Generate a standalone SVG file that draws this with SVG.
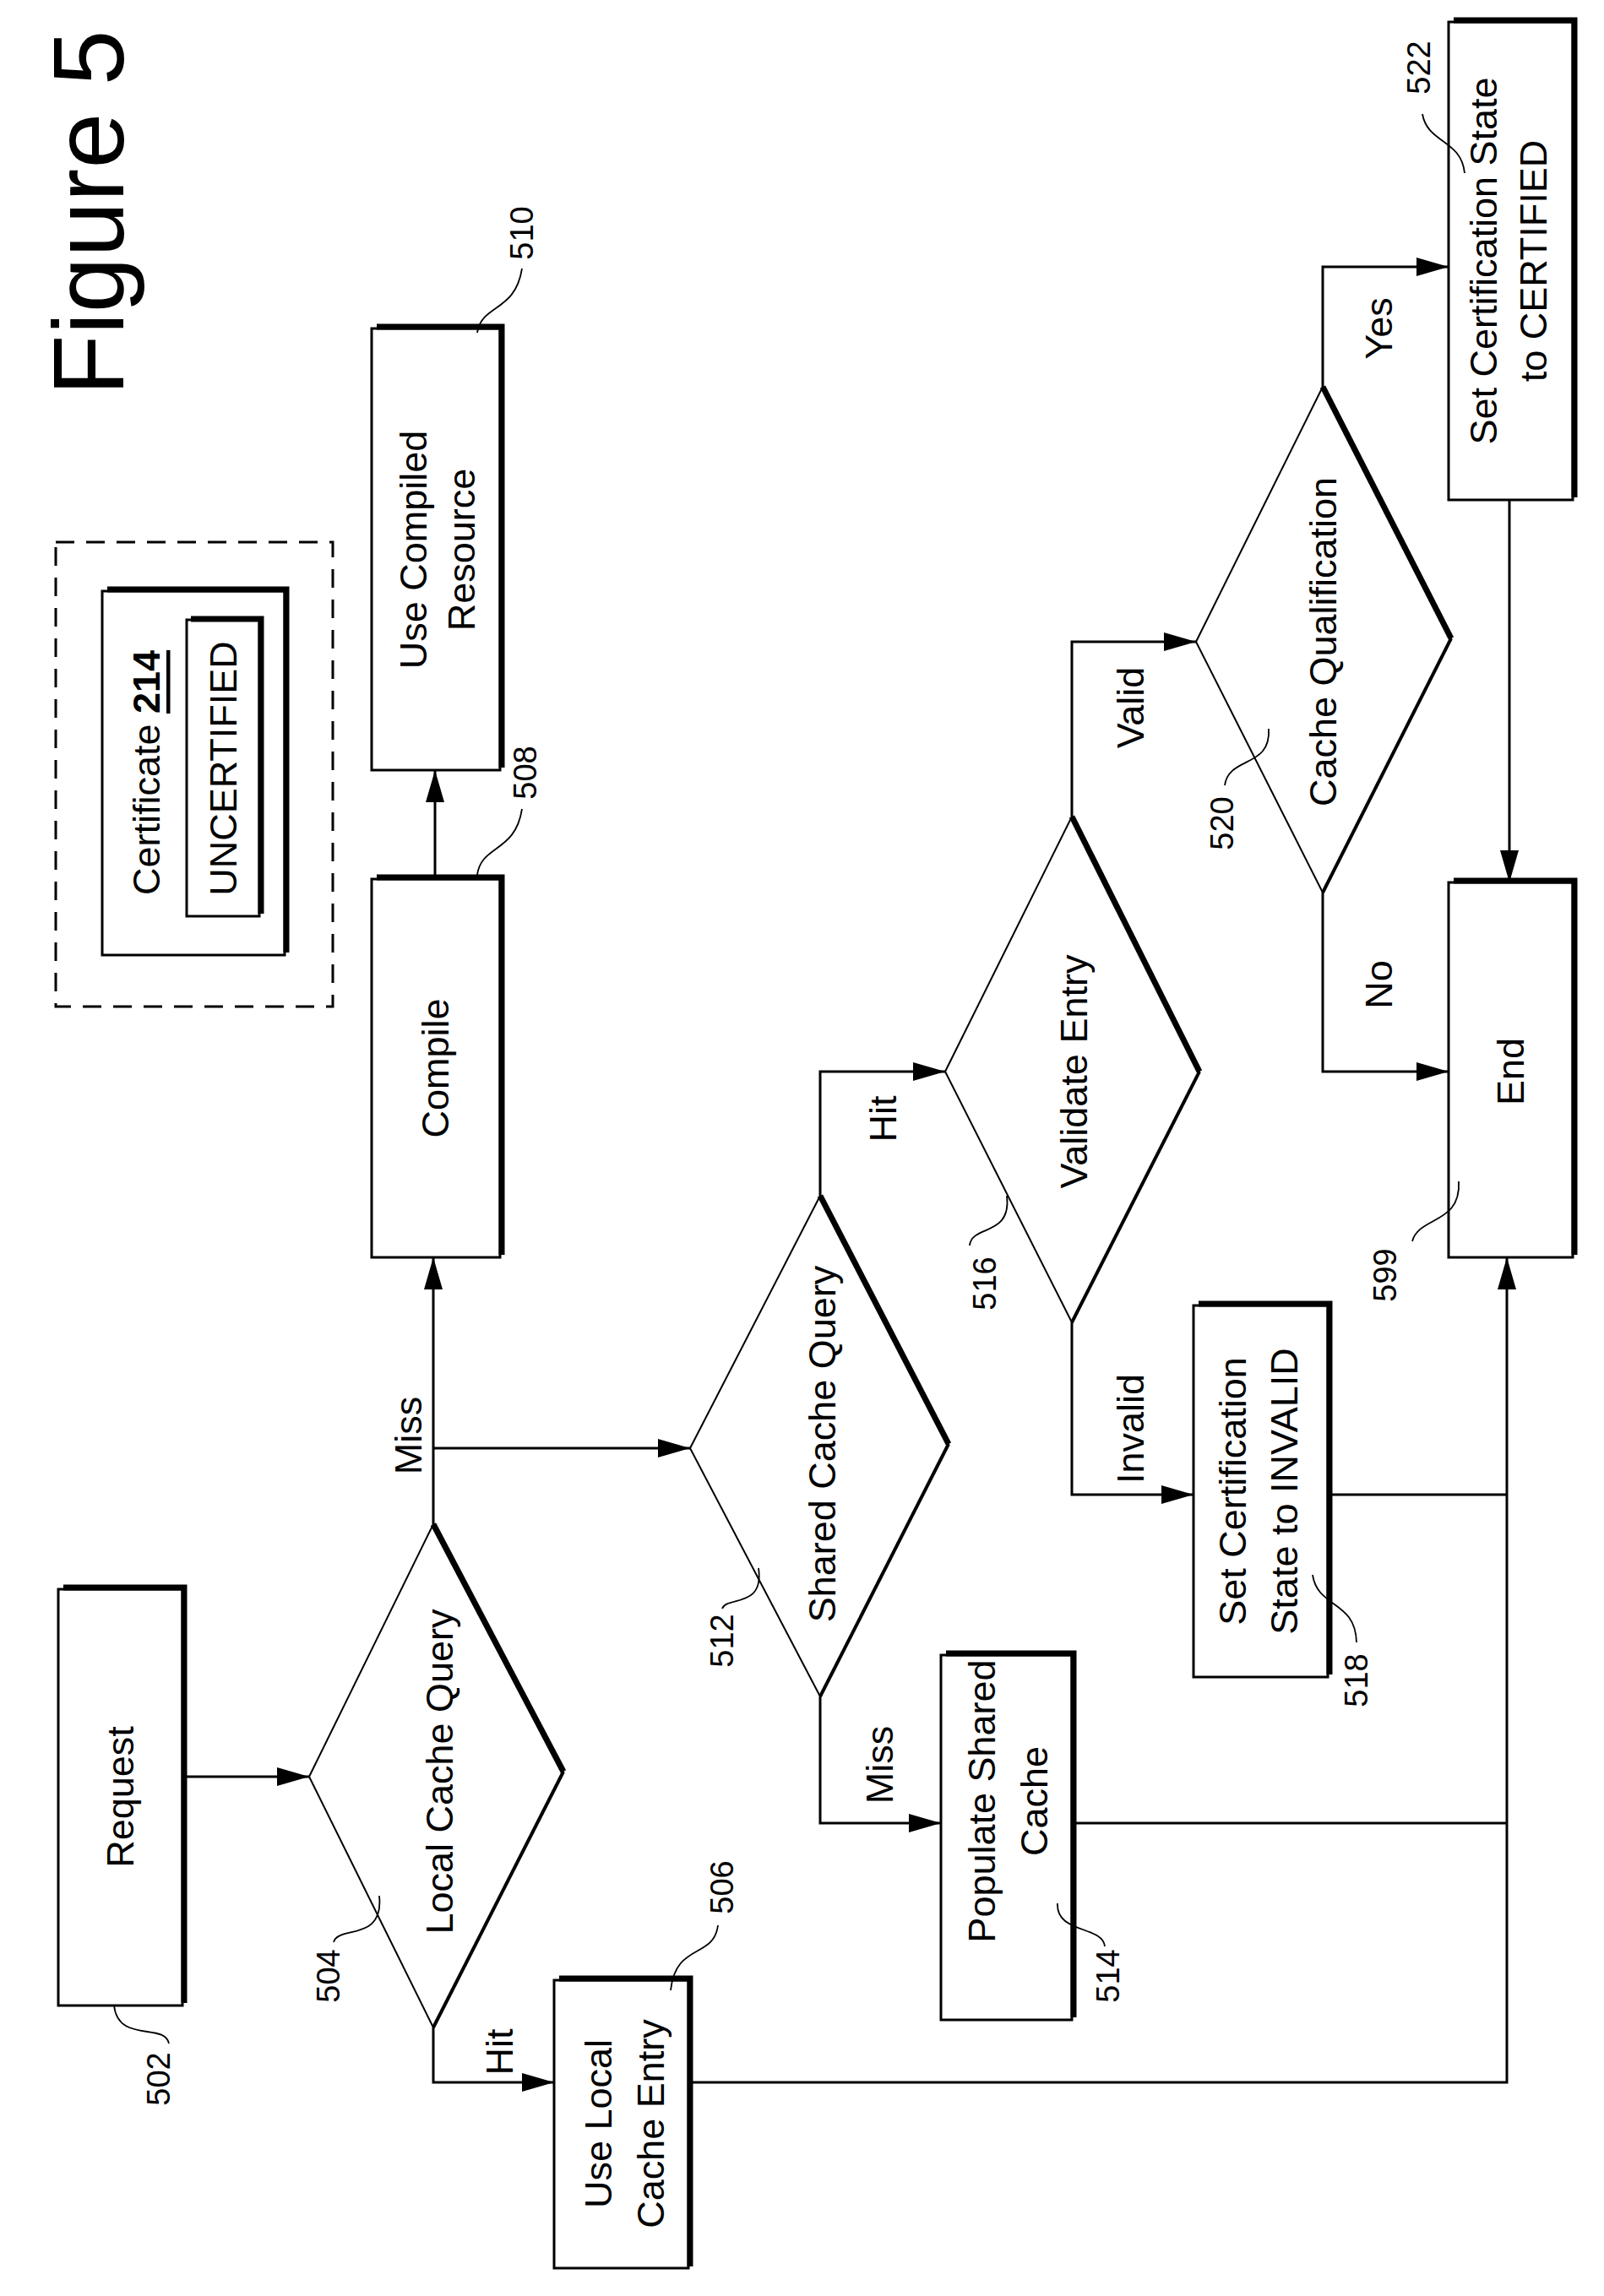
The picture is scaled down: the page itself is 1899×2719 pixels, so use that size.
<svg xmlns="http://www.w3.org/2000/svg" width="1899" height="2719" viewBox="0 0 1899 2719">
<style>
.b{fill:#fff;stroke:#000;stroke-width:3}
.sh{fill:none;stroke:#000;stroke-width:7}
.d{fill:none;stroke:#000;stroke-width:2}
.c{fill:none;stroke:#000;stroke-width:3}
.l{fill:none;stroke:#000;stroke-width:1.8}
text{font-family:"Liberation Sans",Arial,sans-serif;fill:#000;text-anchor:middle;dominant-baseline:central}
.t{font-size:45px}
.n{font-size:38px}
</style>
<defs>
<marker id="a" viewBox="0 0 38 22" refX="38" refY="11" markerWidth="38" markerHeight="22" markerUnits="userSpaceOnUse" orient="auto">
<path d="M0,0 L38,11 L0,22 z" fill="#000"/>
</marker>
</defs>
<text transform="translate(105,252) rotate(-90)" style="font-size:118px">Figure 5</text>

<g id="legend">
<rect x="66" y="642" width="328" height="550" fill="none" stroke="#000" stroke-width="3" stroke-dasharray="22,14"/>
<rect class="b" x="121" y="700" width="216" height="431"/>
<path class="sh" d="M127,698 H339 V1128"/>
<text class="t" transform="translate(173,915) rotate(-90)">Certificate <tspan text-decoration="underline" font-weight="bold">214</tspan></text>
<rect class="b" x="221" y="734" width="86" height="351"/>
<path class="sh" d="M226,733 H309 V1082"/>
<text class="t" transform="translate(264,910) rotate(-90)">UNCERTIFIED</text>
</g>

<g id="n502">
<rect class="b" x="69" y="1882" width="147" height="493"/>
<path class="sh" d="M75,1880 H218 V2372"/>
<text class="t" transform="translate(142,2128) rotate(-90)">Request</text>
<path class="l" d="M135,2375 C140,2420 195,2395 200,2420"/>
<text class="n" transform="translate(188,2462) rotate(-90)">502</text>
</g>

<g id="n504">
<path fill="#fff" stroke="#000" stroke-width="2" d="M366,2104 L513,1805 L667,2098 L513,2401 Z"/>
<path class="sh" d="M513,1805 L667,2098"/>
<path stroke="#000" stroke-width="4" fill="none" d="M667,2098 L513,2401"/>
<text class="t" transform="translate(520,2098) rotate(-90)">Local Cache Query</text>
<path class="l" d="M449,2245 C455,2300 400,2280 395,2300"/>
<text class="n" transform="translate(389,2340) rotate(-90)">504</text>
</g>

<g id="n506">
<rect class="b" x="656" y="2345" width="159" height="341"/>
<path class="sh" d="M662,2343 H817 V2684"/>
<text class="t" transform="translate(708,2515) rotate(-90)">Use Local</text>
<text class="t" transform="translate(770,2515) rotate(-90)">Cache Entry</text>
<path class="l" d="M794,2357 C800,2300 845,2320 850,2280"/>
<text class="n" transform="translate(855,2235) rotate(-90)">506</text>
</g>

<g id="n508">
<rect class="b" x="440" y="1041" width="152" height="448"/>
<path class="sh" d="M446,1039 H594 V1486"/>
<text class="t" transform="translate(515,1265) rotate(-90)">Compile</text>
<path class="l" d="M565,1036 C570,1000 610,1010 618,958"/>
<text class="n" transform="translate(622,915) rotate(-90)">508</text>
</g>

<g id="n510">
<rect class="b" x="440" y="389" width="152" height="523"/>
<path class="sh" d="M446,387 H594 V909"/>
<text class="t" transform="translate(489,651) rotate(-90)">Use Compiled</text>
<text class="t" transform="translate(546,651) rotate(-90)">Resource</text>
<path class="l" d="M565,394 C570,360 610,370 618,318"/>
<text class="n" transform="translate(618,276) rotate(-90)">510</text>
</g>

<g id="n512">
<path fill="#fff" stroke="#000" stroke-width="2" d="M817,1715 L971,1416 L1123,1710 L971,2009 Z"/>
<path class="sh" d="M971,1416 L1123,1710"/>
<path stroke="#000" stroke-width="4" fill="none" d="M1123,1710 L971,2009"/>
<text class="t" transform="translate(973,1710) rotate(-90)">Shared Cache Query</text>
<path class="l" d="M898,1857 C905,1905 860,1890 855,1905"/>
<text class="n" transform="translate(855,1943) rotate(-90)">512</text>
</g>

<g id="n514">
<rect class="b" x="1114" y="1960" width="155" height="432"/>
<path class="sh" d="M1120,1958 H1271 V2389"/>
<text class="t" transform="translate(1162,2133) rotate(-90)">Populate Shared</text>
<text class="t" transform="translate(1224,2133) rotate(-90)">Cache</text>
<path class="l" d="M1252,2254 C1250,2290 1305,2280 1308,2305"/>
<text class="n" transform="translate(1312,2340) rotate(-90)">514</text>
</g>

<g id="n516">
<path fill="#fff" stroke="#000" stroke-width="2" d="M1119,1269 L1269,967 L1420,1269 L1269,1566 Z"/>
<path class="sh" d="M1269,967 L1420,1269"/>
<path stroke="#000" stroke-width="4" fill="none" d="M1420,1269 L1269,1566"/>
<text class="t" transform="translate(1271,1269) rotate(-90)">Validate Entry</text>
<path class="l" d="M1192,1416 C1198,1465 1150,1450 1148,1475"/>
<text class="n" transform="translate(1166,1520) rotate(-90)">516</text>
</g>

<g id="n518">
<rect class="b" x="1413" y="1546" width="159" height="440"/>
<path class="sh" d="M1419,1544 H1574 V1983"/>
<text class="t" transform="translate(1459,1766) rotate(-90)">Set Certification</text>
<text class="t" transform="translate(1520,1766) rotate(-90)">State to INVALID</text>
<path class="l" d="M1554,1865 C1560,1905 1605,1895 1606,1945"/>
<text class="n" transform="translate(1606,1990) rotate(-90)">518</text>
</g>

<g id="n520">
<path fill="#fff" stroke="#000" stroke-width="2" d="M1416,760 L1566,458 L1718,756 L1566,1057 Z"/>
<path class="sh" d="M1566,458 L1718,756"/>
<path stroke="#000" stroke-width="4" fill="none" d="M1718,756 L1566,1057"/>
<text class="t" transform="translate(1566,760) rotate(-90)">Cache Qualification</text>
<path class="l" d="M1502,863 C1505,910 1455,895 1450,930"/>
<text class="n" transform="translate(1447,975) rotate(-90)">520</text>
</g>

<g id="n522">
<rect class="b" x="1715" y="26" width="147" height="566"/>
<path class="sh" d="M1721,24 H1864 V589"/>
<text class="t" transform="translate(1756,309) rotate(-90)">Set Certification State</text>
<text class="t" transform="translate(1815,309) rotate(-90)">to CERTIFIED</text>
<path class="l" d="M1684,135 C1690,170 1730,165 1734,205"/>
<text class="n" transform="translate(1680,80) rotate(-90)">522</text>
</g>

<g id="n599">
<rect class="b" x="1715" y="1045" width="147" height="444"/>
<path class="sh" d="M1721,1043 H1864 V1486"/>
<text class="t" transform="translate(1788,1269) rotate(-90)">End</text>
<path class="l" d="M1727,1399 C1730,1450 1680,1440 1672,1470"/>
<text class="n" transform="translate(1640,1510) rotate(-90)">599</text>
</g>

<g id="connectors">
<path class="c" d="M216,2104 H366" marker-end="url(#a)"/>
<path class="c" d="M513,1805 V1489" marker-end="url(#a)"/>
<path class="c" d="M513,1715 H817" marker-end="url(#a)"/>
<path class="c" d="M513,2401 V2466 H656" marker-end="url(#a)"/>
<path class="c" d="M515,1041 V912" marker-end="url(#a)"/>
<path class="c" d="M971,1416 V1269 H1119" marker-end="url(#a)"/>
<path class="c" d="M971,2009 V2159 H1114" marker-end="url(#a)"/>
<path class="c" d="M1269,967 V760 H1416" marker-end="url(#a)"/>
<path class="c" d="M1269,1566 V1770 H1413" marker-end="url(#a)"/>
<path class="c" d="M1566,458 V316 H1715" marker-end="url(#a)"/>
<path class="c" d="M1566,1057 V1269 H1715" marker-end="url(#a)"/>
<path class="c" d="M1787,592 V1045" marker-end="url(#a)"/>
<path class="c" d="M815,2466 H1784 V1489" marker-end="url(#a)"/>
<path class="c" d="M1269,2159 H1784"/>
<path class="c" d="M1572,1770 H1784"/>
<text class="t" transform="translate(483,1700) rotate(-90)">Miss</text>
<text class="t" transform="translate(591,2430) rotate(-90)">Hit</text>
<text class="t" transform="translate(1045,1325) rotate(-90)">Hit</text>
<text class="t" transform="translate(1041,2090) rotate(-90)">Miss</text>
<text class="t" transform="translate(1338,838) rotate(-90)">Valid</text>
<text class="t" transform="translate(1338,1692) rotate(-90)">Invalid</text>
<text class="t" transform="translate(1632,389) rotate(-90)">Yes</text>
<text class="t" transform="translate(1632,1166) rotate(-90)">No</text>
</g>
</svg>
